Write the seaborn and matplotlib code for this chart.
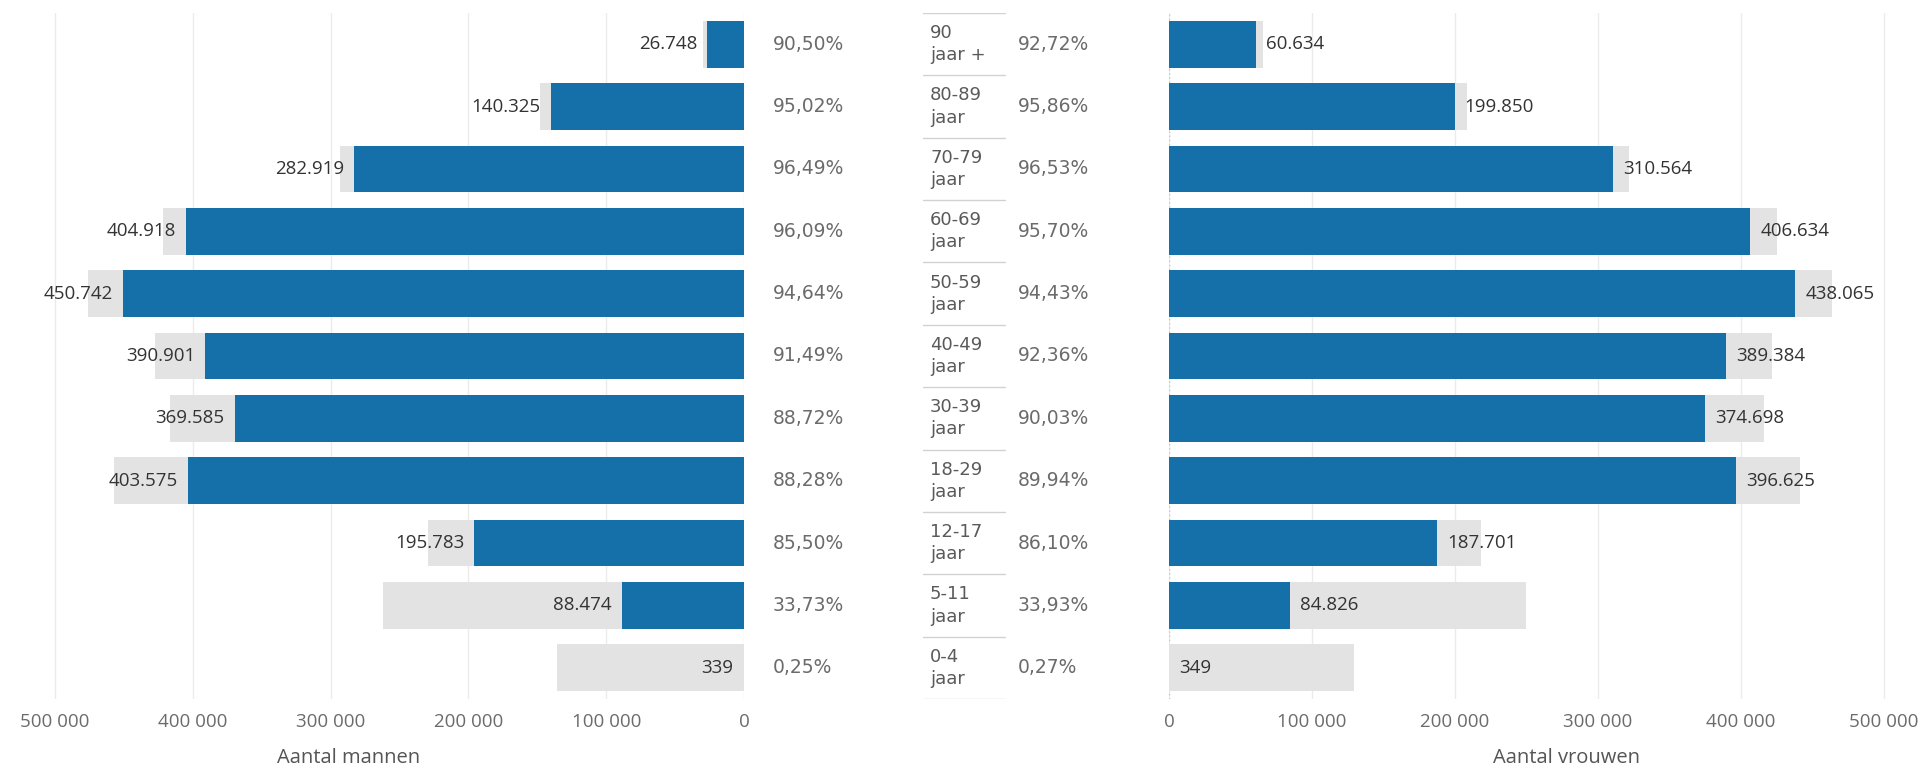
import matplotlib
matplotlib.use("Agg")
import matplotlib.pyplot as plt
import matplotlib.transforms as mtransforms
from matplotlib.ticker import FuncFormatter
import seaborn as sns
import pandas as pd

# ---------------- data ----------------
ages = ["90 jaar +", "80-89 jaar", "70-79 jaar", "60-69 jaar", "50-59 jaar",
        "40-49 jaar", "30-39 jaar", "18-29 jaar", "12-17 jaar", "5-11 jaar", "0-4 jaar"]
age_labels = ["90\njaar +", "80-89\njaar", "70-79\njaar", "60-69\njaar", "50-59\njaar",
              "40-49\njaar", "30-39\njaar", "18-29\njaar", "12-17\njaar", "5-11\njaar", "0-4\njaar"]

men_vacc = [26748, 140325, 282919, 404918, 450742, 390901, 369585, 403575, 195783, 88474, 339]
men_total = [29560, 147680, 293210, 421400, 476270, 427260, 416580, 457150, 228990, 262300, 135600]
men_pct = [90.50, 95.02, 96.49, 96.09, 94.64, 91.49, 88.72, 88.28, 85.50, 33.73, 0.25]

women_vacc = [60634, 199850, 310564, 406634, 438065, 389384, 374698, 396625, 187701, 84826, 349]
women_total = [65400, 208480, 321730, 424900, 463900, 421590, 416190, 440990, 218000, 250000, 129260]
women_pct = [92.72, 95.86, 96.53, 95.70, 94.43, 92.36, 90.03, 89.94, 86.10, 33.93, 0.27]

xticks = [0, 100000, 200000, 300000, 400000, 500000]

df = pd.DataFrame({"age": ages, "men_vacc": men_vacc, "men_total": men_total,
                   "women_vacc": women_vacc, "women_total": women_total})

# ---------------- style ----------------
sns.set_theme(style="white")
plt.rcParams["font.family"] = ["DejaVu Sans"]

BLUE = "#156fa9"
GREY = "#e3e3e3"
W, H = 1925, 766

def rect(x0, x1, y0, y1):
    return [x0 / W, 1 - y1 / H, (x1 - x0) / W, (y1 - y0) / H]

fig = plt.figure(figsize=(W / 100, H / 100), dpi=100)
axL = fig.add_axes(rect(0, 744, 13, 699))
axM = fig.add_axes(rect(744, 1169, 13, 699))
axR = fig.add_axes(rect(1169, 1925, 13, 699))

def fmt_tick(v, pos):
    return f"{int(round(v)):,}".replace(",", " ")

def fmt_val(v):
    return f"{v:,}".replace(",", ".")

def fmt_pct(p):
    return f"{p:.2f}".replace(".", ",") + "%"

for ax, tot, vac in [(axL, "men_total", "men_vacc"),
                     (axR, "women_total", "women_vacc")]:
    sns.barplot(data=df, y="age", x=tot, color=GREY, saturation=1, width=0.75,
                orient="h", ax=ax, zorder=2, linewidth=0, edgecolor="none")
    sns.barplot(data=df, y="age", x=vac, color=BLUE, saturation=1, width=0.75,
                orient="h", ax=ax, zorder=3, linewidth=0, edgecolor="none")
    ax.set_ylim(10.5, -0.5)
    ax.set_yticks([])
    ax.set_ylabel("")
    ax.set_xticks(xticks)
    ax.xaxis.set_major_formatter(FuncFormatter(fmt_tick))
    ax.tick_params(axis="x", length=0, pad=10, labelsize=13.5, labelcolor="#6b6b6b")
    for lab in ax.get_xticklabels():
        lab.set_family(["Open Sans", "DejaVu Sans"])
    ax.grid(axis="x", color="#ebebeb", lw=1)
    ax.set_axisbelow(True)
    for s in ax.spines.values():
        s.set_visible(False)

axL.set_xlim(539900, 0)
axR.set_xlim(0, 528700)
axR.axvline(0, color="#c4c4c4", lw=1, ls=(0, (1, 2)), zorder=1)

axL.set_xlabel("Aantal mannen", fontsize=14.5, color="#555555", family=["Open Sans", "DejaVu Sans"])
axR.set_xlabel("Aantal vrouwen", fontsize=14.5, color="#555555", family=["Open Sans", "DejaVu Sans"])
axL.xaxis.set_label_coords(0.469, -0.071)
axR.xaxis.set_label_coords(0.526, -0.071)

# value labels
offL = mtransforms.offset_copy(axL.transData, fig=fig, x=-10, y=0, units="dots")
offR = mtransforms.offset_copy(axR.transData, fig=fig, x=10, y=0, units="dots")
for i, v in enumerate(men_vacc):
    axL.text(v, i, fmt_val(v), transform=offL, ha="right", va="center",
             fontsize=13.5, color="#333333", family=["Open Sans", "DejaVu Sans"], zorder=5)
for i, v in enumerate(women_vacc):
    axR.text(v, i, fmt_val(v), transform=offR, ha="left", va="center",
             fontsize=13.5, color="#333333", family=["Open Sans", "DejaVu Sans"], zorder=5)

# middle column
axM.set_xlim(0, 425)
axM.set_ylim(10.5, -0.5)
axM.axis("off")
for i in range(len(ages)):
    axM.text(29, i, fmt_pct(men_pct[i]), ha="left", va="center", fontsize=13.5, color="#6b6b6b")
    axM.text(274, i, fmt_pct(women_pct[i]), ha="left", va="center", fontsize=13.5, color="#6b6b6b")
    axM.text(186, i, age_labels[i], ha="left", va="center", fontsize=13, color="#5a5a5a",
             linespacing=1.3)
for b in range(len(ages) + 1):
    axM.plot([179, 261], [b - 0.5, b - 0.5], color="#d2d2d2", lw=1)

fig.savefig("out.png", dpi=100)
